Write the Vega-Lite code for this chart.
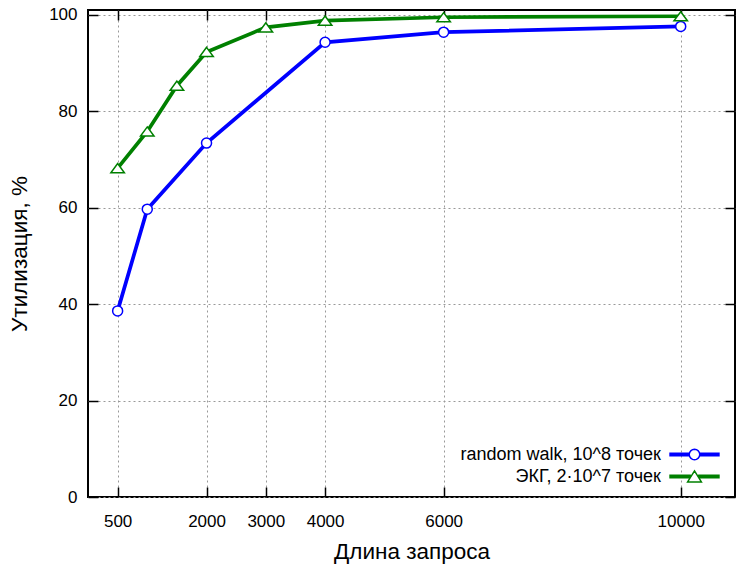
{
  "$schema": "https://vega.github.io/schema/vega-lite/v6.json",
  "width": 647,
  "height": 487,
  "autosize": "none",
  "padding": {"left": 88, "top": 10, "right": 1, "bottom": 67},
  "background": "white",
  "config": {
    "font": "Liberation Sans",
    "view": {"stroke": "black", "strokeWidth": 2},
    "axis": {
      "domain": false,
      "grid": true,
      "gridColor": "#999999",
      "gridDash": [2, 3],
      "gridWidth": 1,
      "gridOpacity": 1,
      "tickColor": "black",
      "tickWidth": 1.5,
      "tickSize": -10,
      "labelFont": "Liberation Sans",
      "labelFontSize": 17,
      "labelColor": "black",
      "labelFlush": false,
      "titleFont": "Liberation Sans",
      "titleFontSize": 22.5,
      "titleFontWeight": "normal",
      "titleColor": "black"
    }
  },
  "data": {
    "values": [
      {"series": "random walk, 10^8 точек", "len": 500, "util": 38.6},
      {"series": "random walk, 10^8 точек", "len": 1000, "util": 59.7},
      {"series": "random walk, 10^8 точек", "len": 2000, "util": 73.4},
      {"series": "random walk, 10^8 точек", "len": 4000, "util": 94.3},
      {"series": "random walk, 10^8 точек", "len": 6000, "util": 96.4},
      {"series": "random walk, 10^8 точек", "len": 10000, "util": 97.6},
      {"series": "ЭКГ, 2·10^7 точек", "len": 500, "util": 68.2},
      {"series": "ЭКГ, 2·10^7 точек", "len": 1000, "util": 75.8},
      {"series": "ЭКГ, 2·10^7 точек", "len": 1500, "util": 85.3},
      {"series": "ЭКГ, 2·10^7 точек", "len": 2000, "util": 92.3},
      {"series": "ЭКГ, 2·10^7 точек", "len": 3000, "util": 97.4},
      {"series": "ЭКГ, 2·10^7 точек", "len": 4000, "util": 98.8},
      {"series": "ЭКГ, 2·10^7 точек", "len": 6000, "util": 99.5},
      {"series": "ЭКГ, 2·10^7 точек", "len": 10000, "util": 99.7}
    ]
  },
  "resolve": {"axis": {"x": "independent", "y": "independent"}},
  "layer": [
    {
      "mark": {"type": "line", "strokeWidth": 3.7},
      "encoding": {
        "x": {
          "field": "len", "type": "quantitative",
          "scale": {"domain": [0, 10916], "nice": false, "zero": false},
          "axis": {"values": [500, 2000, 3000, 4000, 6000, 10000], "format": "d", "title": "Длина запроса", "labelPadding": 26, "titlePadding": 11}
        },
        "y": {
          "field": "util", "type": "quantitative",
          "scale": {"domain": [0, 101], "nice": false},
          "axis": {"values": [0, 20, 40, 60, 80, 100], "format": "d", "title": "Утилизация, %", "labelPadding": 21, "titlePadding": 17}
        },
        "color": {
          "field": "series", "type": "nominal",
          "scale": {"domain": ["random walk, 10^8 точек", "ЭКГ, 2·10^7 точек"], "range": ["#0000ff", "#008000"]},
          "legend": {
            "orient": "none", "legendX": 597.5, "legendY": 435.5, "title": null,
            "labelAlign": "right", "labelOffset": -42.5, "labelFontSize": 18, "labelFont": "Liberation Sans", "labelColor": "black", "labelLimit": 400,
            "symbolSize": 144, "symbolStrokeWidth": 1.5, "rowPadding": 4, "padding": 0,
            "encode": {
              "symbols": {
                "update": {
                  "shape": {"signal": "datum.value === 'random walk, 10^8 точек' ? 'M-4.2,-0.2L-0.88,-0.2M-4.2,0L-0.88,0M-4.2,0.2L-0.88,0.2M0.88,-0.2L4.2,-0.2M0.88,0L4.2,0M0.88,0.2L4.2,0.2M0.88,0L0.813,0.337L0.622,0.622L0.337,0.813L0,0.88L-0.337,0.813L-0.622,0.622L-0.813,0.337L-0.88,0L-0.813,-0.337L-0.622,-0.622L-0.337,-0.813L0,-0.88L0.337,-0.813L0.622,-0.622L0.813,-0.337Z' : 'M-4.2,-0.2L-0.6,-0.2M-4.2,0L-0.6,0M-4.2,0.2L-0.6,0.2M0.6,-0.2L4.2,-0.2M0.6,0L4.2,0M0.6,0.2L4.2,0.2M0,-0.95L1.15,0.9L-1.15,0.9Z'"},
                  "fill": {"value": "white"},
                  "fillOpacity": {"value": 1},
                  "strokeWidth": {"value": 1.5},
                  "opacity": {"value": 1}
                }
              }
            }
          }
        }
      }
    },
    {
      "transform": [{"filter": "datum.series === 'random walk, 10^8 точек'"}],
      "mark": {"type": "point", "shape": "circle", "size": 100, "filled": false, "fill": "white", "stroke": "#0000ff", "strokeWidth": 1.5, "opacity": 1},
      "encoding": {
        "x": {"field": "len", "type": "quantitative", "scale": {"domain": [0, 10916], "nice": false, "zero": false}, "axis": null},
        "y": {"field": "util", "type": "quantitative", "scale": {"domain": [0, 101], "nice": false}, "axis": null}
      }
    },
    {
      "transform": [{"filter": "datum.series === 'ЭКГ, 2·10^7 точек'"}],
      "mark": {"type": "point", "shape": "M0,-0.68L1,0.68L-1,0.68Z", "size": 182, "filled": false, "fill": "white", "stroke": "#008000", "strokeWidth": 1.5, "opacity": 1},
      "encoding": {
        "x": {"field": "len", "type": "quantitative", "scale": {"domain": [0, 10916], "nice": false, "zero": false}, "axis": null},
        "y": {"field": "util", "type": "quantitative", "scale": {"domain": [0, 101], "nice": false}, "axis": null}
      }
    },
    {
      "mark": {"type": "point", "opacity": 0},
      "encoding": {
        "x": {
          "field": "len", "type": "quantitative",
          "scale": {"domain": [0, 10916], "nice": false, "zero": false},
          "axis": {"orient": "top", "values": [500, 2000, 3000, 4000, 6000, 10000], "labels": false, "grid": false, "title": null}
        },
        "y": {
          "field": "util", "type": "quantitative",
          "scale": {"domain": [0, 101], "nice": false},
          "axis": {"orient": "right", "values": [0, 20, 40, 60, 80, 100], "labels": false, "grid": false, "title": null}
        }
      }
    }
  ]
}
